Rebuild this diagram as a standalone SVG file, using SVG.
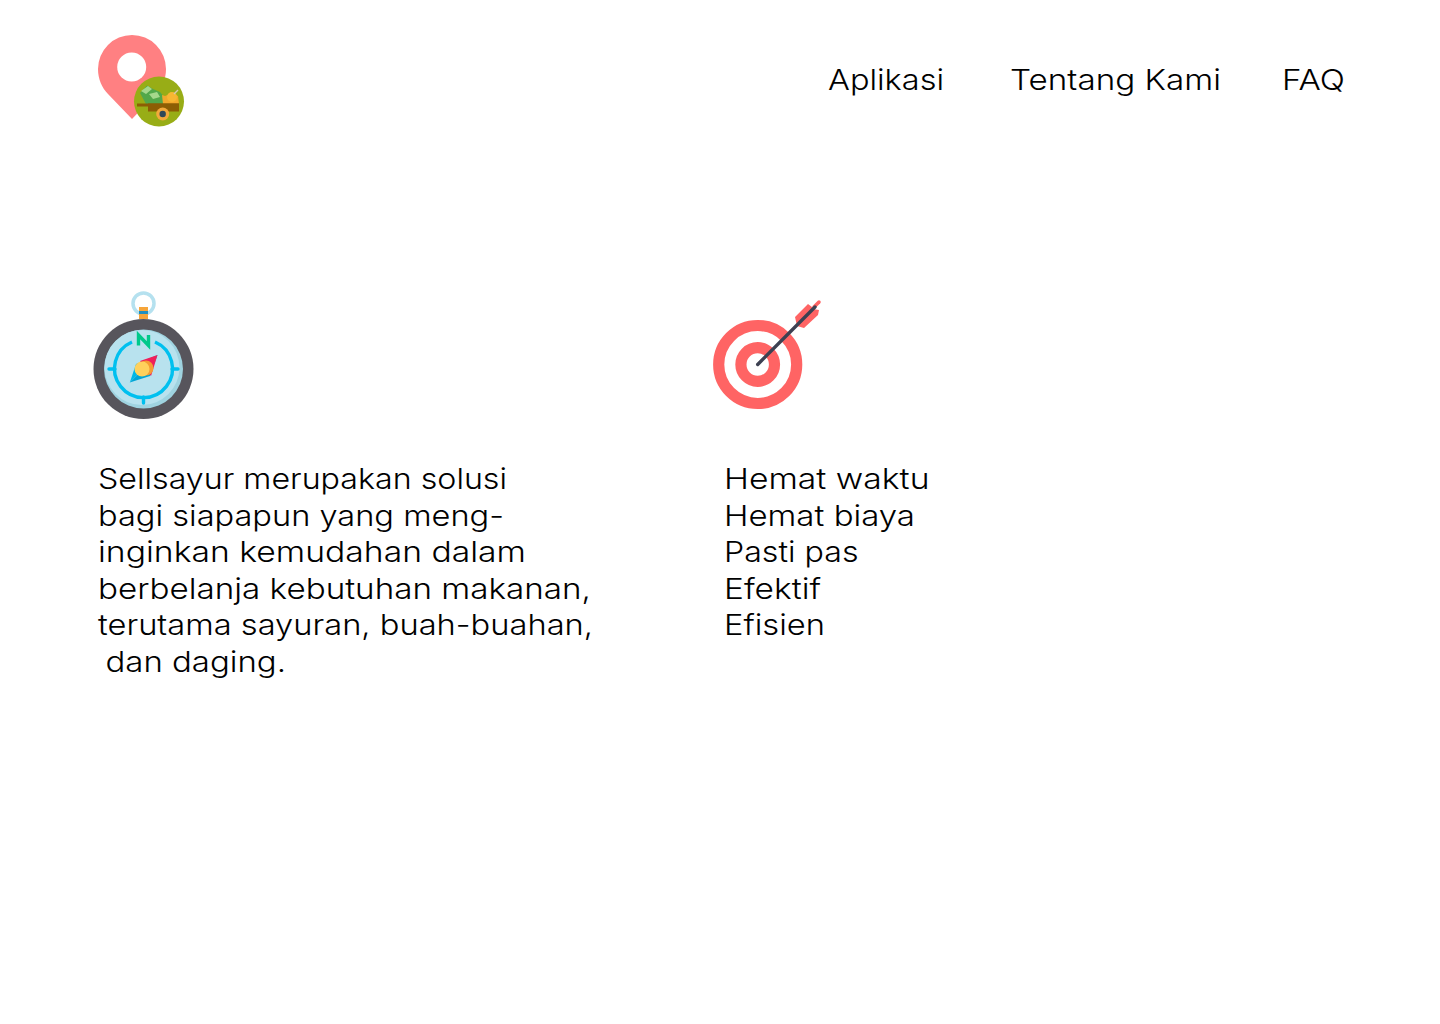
<svg xmlns="http://www.w3.org/2000/svg" width="1440" height="1024" viewBox="0 0 1440 1024">
<style>
text{font-family:"Inter","Open Sans","Liberation Sans",sans-serif;font-size:29px;font-weight:350;fill:#000;white-space:pre}
</style>
<rect width="1440" height="1024" fill="#fff"/>
<g id="logo">
<path d="M132 119 L108 94 C102 88 98 79 98 69 A34 34 0 0 1 166 69 C166 79 162 88 156 94 Z" fill="#ff8082"/>
<circle cx="131.700" cy="67" r="14.500" fill="#fff"/>
<circle cx="159" cy="101.500" r="25" fill="#98ad16"/>
<path d="M140 93 L147 85.500 L153 89 L160 92 L165 98 L163 104 L146 104 Z" fill="#52a84a"/>
<path d="M141 91 L148 86 L152 89 L146 94 ZM149 94 L157 92 L160 97 L153 99 Z" fill="#a5d88c"/>
<path d="M163 104 L162 95 L165 96 L172 93 L178 96 L179 104 Z" fill="#f2a92c"/>
<circle cx="172" cy="97" r="5" fill="#f7b733"/>
<path d="M174 94 L178 90" stroke="#d8c8b0" stroke-width="1.500"/>
<rect x="137" y="103.500" width="42" height="3" fill="#8c5e04"/>
<rect x="148" y="103.500" width="31" height="8" fill="#8c5e04"/>
<circle cx="162.700" cy="114" r="6.500" fill="#f2a93b"/>
<circle cx="162.700" cy="114" r="3.200" fill="#2f4858"/>
</g>
<g id="nav">
<text x="828" y="90" textLength="116" lengthAdjust="spacingAndGlyphs">Aplikasi</text>
<text x="1010" y="90" textLength="211" lengthAdjust="spacingAndGlyphs">Tentang Kami</text>
<text x="1282" y="90" textLength="63" lengthAdjust="spacingAndGlyphs">FAQ</text>
</g>
<g id="compass">
<circle cx="143.500" cy="303.500" r="10.500" fill="none" stroke="#b5e1ef" stroke-width="3.500"/>
<rect x="139" y="307" width="9" height="12" fill="#f6a53a"/>
<rect x="139" y="311" width="9" height="3" fill="#1f8fc0"/>
<circle cx="143.500" cy="369" r="50" fill="#57555c"/>
<path d="M143.500 319 A50 50 0 0 1 143.500 419 A50 50 0 0 0 143.500 319Z" fill="#46444b"/>
<circle cx="143.500" cy="369" r="39.500" fill="#9fd3e0"/>
<circle cx="142" cy="367.500" r="37.500" fill="#b8e2ee"/>
<path d="M132 342 A29 29 0 1 0 155 342" fill="none" stroke="#00c0ef" stroke-width="3.400"/>
<path d="M109 369h6M172 369h6M143.500 397v6" stroke="#00c0ef" stroke-width="3.400" stroke-linecap="round"/>
<path d="M138.500 345.500 V335 L148.500 345.500 V335" fill="none" stroke="#00c98b" stroke-width="3.400"/>
<path d="M157.500 355 L129.800 382.500 L136 364 Z" fill="#00b8e6"/>
<path d="M157.500 355 L129.800 382.500 L150 376 Z" fill="#00a5d6"/>
<path d="M157.500 355 L140 361 L151 376 Z" fill="#f01f5a"/>
<circle cx="146" cy="368" r="7.500" fill="#f59d33"/>
<circle cx="142" cy="369" r="7.500" fill="#ffd15c"/>
</g>
<g id="target">
<circle cx="757.700" cy="364.500" r="39" fill="none" stroke="#ff6464" stroke-width="11.200"/>
<circle cx="757.700" cy="364.500" r="16.800" fill="none" stroke="#ff6464" stroke-width="11.200"/>
<path d="M795 317 L808 304 L812 307 L813 309 L819 310 L818 315 L804 328 L797 326 Z" fill="#ff6464"/>
<path d="M814 307 L819 302" stroke="#ff6464" stroke-width="3.500" stroke-linecap="round"/>
<path d="M757.700 364.500 L815 307" stroke="#3d4152" stroke-width="3.400" stroke-linecap="round"/>
</g>
<g id="about">
<text x="98" y="489" textLength="409" lengthAdjust="spacingAndGlyphs">Sellsayur merupakan solusi</text>
<text x="98" y="526" textLength="406" lengthAdjust="spacingAndGlyphs">bagi siapapun yang meng-</text>
<text x="98" y="562" textLength="428" lengthAdjust="spacingAndGlyphs">inginkan kemudahan dalam</text>
<text x="98" y="599" textLength="493" lengthAdjust="spacingAndGlyphs">berbelanja kebutuhan makanan,</text>
<text x="98" y="635" textLength="495" lengthAdjust="spacingAndGlyphs">terutama sayuran, buah-buahan,</text>
<text x="105.500" y="672" textLength="180.500" lengthAdjust="spacingAndGlyphs">dan daging.</text>
</g>
<g id="benefits">
<text x="724" y="489" textLength="205.500" lengthAdjust="spacingAndGlyphs">Hemat waktu</text>
<text x="724" y="526" textLength="191" lengthAdjust="spacingAndGlyphs">Hemat biaya</text>
<text x="724" y="562" textLength="134.500" lengthAdjust="spacingAndGlyphs">Pasti pas</text>
<text x="724" y="599" textLength="97" lengthAdjust="spacingAndGlyphs">Efektif</text>
<text x="724" y="635" textLength="101" lengthAdjust="spacingAndGlyphs">Efisien</text>
</g>
</svg>
